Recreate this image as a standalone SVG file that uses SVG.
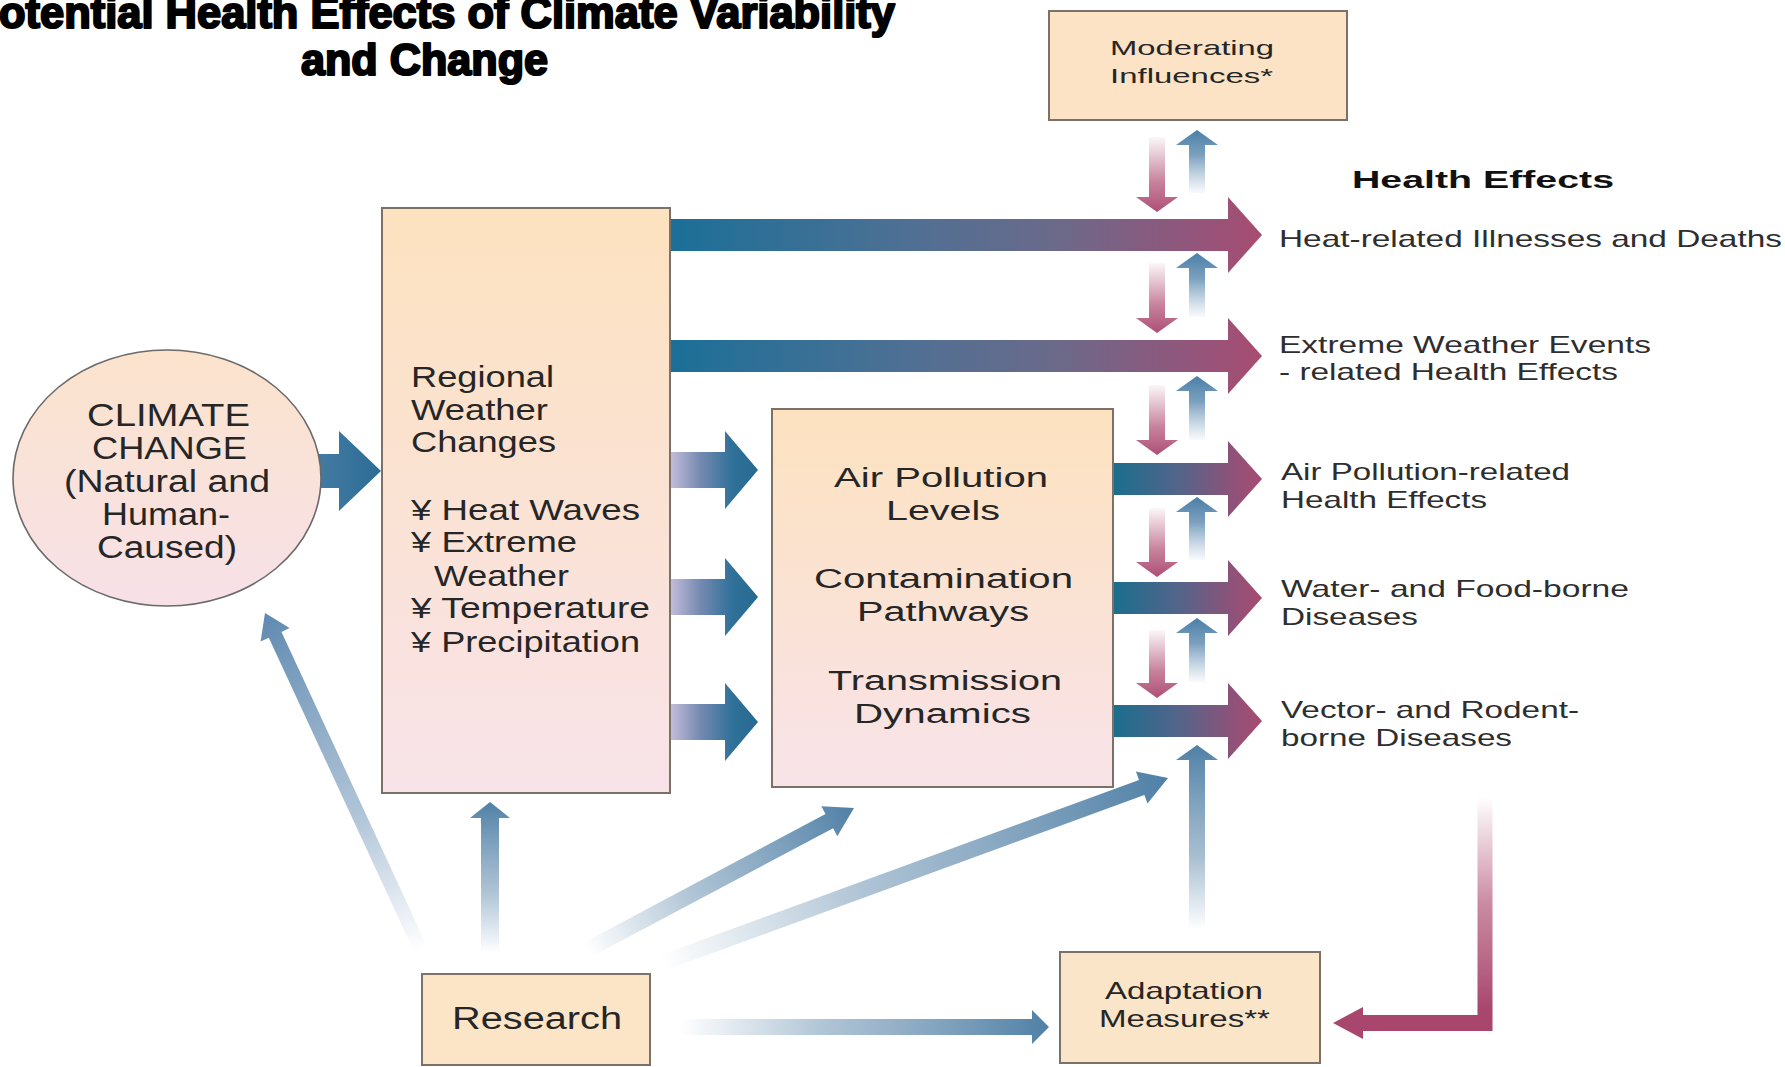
<svg xmlns="http://www.w3.org/2000/svg" width="1785" height="1067" viewBox="0 0 1785 1067">
<style>
.t{font-family:"Liberation Sans",Arial,sans-serif;fill:#262626}
.title{font-family:"Liberation Sans",Arial,sans-serif;font-weight:bold;font-size:44px;fill:#000;stroke:#000;stroke-width:2.2;stroke-linejoin:round}
.ell{font-size:31px}
.reg{font-size:30px}
.mid{font-size:27px}
.he{font-size:24px;fill:#2e2e2e}
.heh{font-size:23px;font-weight:bold;fill:#111}
.sm{font-size:21px}
.res{font-size:31px}
.ad{font-size:24px}
.box{stroke:#7d7068;stroke-width:2}
</style>
<defs>
<linearGradient id="gBox" x1="0" y1="0" x2="0" y2="1"><stop offset="0" stop-color="#fde2bf"/><stop offset="1" stop-color="#f8e3e9"/></linearGradient>
<linearGradient id="gEll" x1="0" y1="0" x2="0" y2="1"><stop offset="0" stop-color="#fbe3cc"/><stop offset="1" stop-color="#f7e1e8"/></linearGradient>
<linearGradient id="gLong" gradientUnits="userSpaceOnUse" x1="670" y1="0" x2="1262" y2="0"><stop offset="0" stop-color="#1b6f98"/><stop offset="0.4" stop-color="#4e7094"/><stop offset="0.65" stop-color="#6b6a8a"/><stop offset="0.85" stop-color="#8d587d"/><stop offset="1" stop-color="#a84c72"/></linearGradient>
<linearGradient id="gShort" gradientUnits="userSpaceOnUse" x1="1113" y1="0" x2="1262" y2="0"><stop offset="0" stop-color="#1a6e8e"/><stop offset="0.45" stop-color="#55648a"/><stop offset="0.8" stop-color="#8e5279"/><stop offset="1" stop-color="#a84b70"/></linearGradient>
<linearGradient id="gReg" gradientUnits="userSpaceOnUse" x1="670" y1="0" x2="758" y2="0"><stop offset="0" stop-color="#c4bedb"/><stop offset="0.35" stop-color="#7489b0"/><stop offset="0.7" stop-color="#30719a"/><stop offset="1" stop-color="#26698f"/></linearGradient>
<linearGradient id="gEllA" gradientUnits="userSpaceOnUse" x1="300" y1="0" x2="381" y2="0"><stop offset="0" stop-color="#4a7fa6"/><stop offset="1" stop-color="#2c6c95"/></linearGradient>
<linearGradient id="gDown" x1="0" y1="0" x2="0" y2="1"><stop offset="0" stop-color="#b65d7e" stop-opacity="0.05"/><stop offset="0.6" stop-color="#b4587b" stop-opacity="0.75"/><stop offset="1" stop-color="#ae4f76"/></linearGradient>
<linearGradient id="gUp" x1="0" y1="0" x2="0" y2="1"><stop offset="0" stop-color="#4a7fa8"/><stop offset="0.4" stop-color="#5a88ae" stop-opacity="0.8"/><stop offset="1" stop-color="#7fa2c2" stop-opacity="0.05"/></linearGradient>
<linearGradient id="gR1" gradientUnits="userSpaceOnUse" x1="421" y1="950" x2="265" y2="613"><stop offset="0" stop-color="#7b9dbd" stop-opacity="0"/><stop offset="0.4" stop-color="#7b9dbd" stop-opacity="0.6"/><stop offset="1" stop-color="#5f8ab0"/></linearGradient>
<linearGradient id="gR2" gradientUnits="userSpaceOnUse" x1="490" y1="953" x2="490" y2="802"><stop offset="0" stop-color="#6d93b3" stop-opacity="0"/><stop offset="0.4" stop-color="#6d93b3" stop-opacity="0.55"/><stop offset="1" stop-color="#4f80a6"/></linearGradient>
<linearGradient id="gR3" gradientUnits="userSpaceOnUse" x1="587" y1="950" x2="854" y2="808"><stop offset="0" stop-color="#6d93b3" stop-opacity="0"/><stop offset="0.4" stop-color="#6d93b3" stop-opacity="0.55"/><stop offset="1" stop-color="#4f80a6"/></linearGradient>
<linearGradient id="gR4" gradientUnits="userSpaceOnUse" x1="662" y1="963" x2="1168" y2="778"><stop offset="0" stop-color="#6d93b3" stop-opacity="0"/><stop offset="0.4" stop-color="#6d93b3" stop-opacity="0.55"/><stop offset="1" stop-color="#4f80a6"/></linearGradient>
<linearGradient id="gR5" gradientUnits="userSpaceOnUse" x1="679" y1="0" x2="1049" y2="0"><stop offset="0" stop-color="#6d93b3" stop-opacity="0"/><stop offset="0.4" stop-color="#6d93b3" stop-opacity="0.55"/><stop offset="1" stop-color="#4f80a6"/></linearGradient>
<linearGradient id="gUpA" gradientUnits="userSpaceOnUse" x1="0" y1="930" x2="0" y2="745"><stop offset="0" stop-color="#6d93b3" stop-opacity="0"/><stop offset="0.4" stop-color="#6d93b3" stop-opacity="0.6"/><stop offset="1" stop-color="#4f80a6"/></linearGradient>
<linearGradient id="gElbow" gradientUnits="userSpaceOnUse" x1="0" y1="797" x2="0" y2="1010"><stop offset="0" stop-color="#b65d7e" stop-opacity="0"/><stop offset="0.5" stop-color="#b4587b" stop-opacity="0.7"/><stop offset="1" stop-color="#a8466e"/></linearGradient>
</defs>
<rect x="0" y="0" width="1785" height="1067" fill="#ffffff"/>

<g id="title">
<text class="title" x="-30" y="28" textLength="925" lengthAdjust="spacingAndGlyphs">Potential Health Effects of Climate Variability</text>
<text class="title" x="301" y="75" textLength="247" lengthAdjust="spacingAndGlyphs">and Change</text>
</g>

<g id="connectors">
<polygon fill="url(#gEllA)" points="300,454 339,454 339,431 381,471 339,511 339,488 300,488"/>
<polygon fill="url(#gLong)" points="671,219 1228,219 1228,197 1262,235 1228,273 1228,251 671,251"/>
<polygon fill="url(#gLong)" points="671,340 1228,340 1228,318 1262,356 1228,394 1228,372 671,372"/>
<polygon fill="url(#gReg)" points="671,452 725,452 725,431 758,470 725,509 725,488 671,488"/>
<polygon fill="url(#gReg)" points="671,579 725,579 725,558 758,597 725,636 725,615 671,615"/>
<polygon fill="url(#gReg)" points="671,704 725,704 725,683 758,722 725,761 725,740 671,740"/>
<polygon fill="url(#gShort)" points="1113,463 1228,463 1228,441 1262,479 1228,517 1228,495 1113,495"/>
<polygon fill="url(#gShort)" points="1113,582 1228,582 1228,560 1262,598 1228,636 1228,614 1113,614"/>
<polygon fill="url(#gShort)" points="1113,705 1228,705 1228,683 1262,721 1228,759 1228,737 1113,737"/>
<polygon fill="url(#gDown)" points="1149,137 1165,137 1165,197 1178,197 1157,212 1136,197 1149,197"/>
<polygon fill="url(#gDown)" points="1149,263 1165,263 1165,318 1178,318 1157,333 1136,318 1149,318"/>
<polygon fill="url(#gDown)" points="1149,385 1165,385 1165,440 1178,440 1157,455 1136,440 1149,440"/>
<polygon fill="url(#gDown)" points="1149,508 1165,508 1165,562 1178,562 1157,577 1136,562 1149,562"/>
<polygon fill="url(#gDown)" points="1149,630 1165,630 1165,683 1178,683 1157,698 1136,683 1149,683"/>
<polygon fill="url(#gUp)" points="1189,193 1189,145 1176,145 1197,130 1218,145 1205,145 1205,193"/>
<polygon fill="url(#gUp)" points="1189,317 1189,268 1176,268 1197,253 1218,268 1205,268 1205,317"/>
<polygon fill="url(#gUp)" points="1189,440 1189,391 1176,391 1197,376 1218,391 1205,391 1205,440"/>
<polygon fill="url(#gUp)" points="1189,560 1189,512 1176,512 1197,497 1218,512 1205,512 1205,560"/>
<polygon fill="url(#gUp)" points="1189,682 1189,633 1176,633 1197,618 1218,633 1205,633 1205,682"/>
<polygon fill="url(#gUpA)" points="1189,930 1189,760 1176,760 1197,745 1218,760 1205,760 1205,930"/>
<polygon fill="url(#gR1)" points="427.4,947.1 281.5,631.9 289.6,628.1 265,613 260.6,641.5 268.8,637.7 414.7,952.9"/>
<polygon fill="url(#gR2)" points="481,953 481,818 470,818 490,802 510,818 499,818 499,953"/>
<polygon fill="url(#gR3)" points="583.2,942.9 825.5,814.1 821.3,806.2 854,808 837.3,836.2 833.1,828.3 590.8,957.1"/>
<polygon fill="url(#gR4)" points="659.3,955.5 1139,780.1 1135.9,771.6 1168,778 1147.5,803.6 1144.4,795.1 664.7,970.5"/>
<polygon fill="url(#gR5)" points="679,1019 1032,1019 1032,1010 1049,1027 1032,1044 1032,1035 679,1035"/>
<polygon fill="url(#gElbow)" points="1477.5,797 1492.5,797 1492.5,1031 1363,1031 1363,1039 1333,1023 1363,1007 1363,1015 1477.5,1015"/>
</g>

<g id="climate-change">
<ellipse cx="167" cy="478" rx="154" ry="128" fill="url(#gEll)" stroke="#6a6a6a" stroke-width="1.6"/>
<text class="t ell" x="87" y="426" textLength="163" lengthAdjust="spacingAndGlyphs">CLIMATE</text>
<text class="t ell" x="92" y="459" textLength="155" lengthAdjust="spacingAndGlyphs">CHANGE</text>
<text class="t ell" x="64" y="492" textLength="206" lengthAdjust="spacingAndGlyphs">(Natural and</text>
<text class="t ell" x="102" y="525" textLength="128" lengthAdjust="spacingAndGlyphs">Human-</text>
<text class="t ell" x="97" y="558" textLength="140" lengthAdjust="spacingAndGlyphs">Caused)</text>
</g>

<g id="regional-weather">
<rect class="box" x="382" y="208" width="288" height="585" fill="url(#gBox)"/>
<text class="t reg" x="411" y="387" textLength="143" lengthAdjust="spacingAndGlyphs">Regional</text>
<text class="t reg" x="411" y="420" textLength="137" lengthAdjust="spacingAndGlyphs">Weather</text>
<text class="t reg" x="411" y="452" textLength="145" lengthAdjust="spacingAndGlyphs">Changes</text>
<text class="t reg" x="411" y="520" textLength="229" lengthAdjust="spacingAndGlyphs">¥ Heat Waves</text>
<text class="t reg" x="411" y="552" textLength="166" lengthAdjust="spacingAndGlyphs">¥ Extreme</text>
<text class="t reg" x="434" y="586" textLength="135" lengthAdjust="spacingAndGlyphs">Weather</text>
<text class="t reg" x="411" y="618" textLength="239" lengthAdjust="spacingAndGlyphs">¥ Temperature</text>
<text class="t reg" x="411" y="652" textLength="229" lengthAdjust="spacingAndGlyphs">¥ Precipitation</text>
</g>

<g id="pathways">
<rect class="box" x="772" y="409" width="341" height="378" fill="url(#gBox)"/>
<text class="t mid" x="834" y="487" textLength="214" lengthAdjust="spacingAndGlyphs">Air Pollution</text>
<text class="t mid" x="886" y="520" textLength="114" lengthAdjust="spacingAndGlyphs">Levels</text>
<text class="t mid" x="814" y="588" textLength="259" lengthAdjust="spacingAndGlyphs">Contamination</text>
<text class="t mid" x="857" y="621" textLength="172" lengthAdjust="spacingAndGlyphs">Pathways</text>
<text class="t mid" x="828" y="690" textLength="234" lengthAdjust="spacingAndGlyphs">Transmission</text>
<text class="t mid" x="854" y="723" textLength="177" lengthAdjust="spacingAndGlyphs">Dynamics</text>
</g>

<g id="moderating">
<rect class="box" x="1049" y="11" width="298" height="109" fill="#fce3c6"/>
<text class="t sm" x="1110" y="55" textLength="164" lengthAdjust="spacingAndGlyphs">Moderating</text>
<text class="t sm" x="1110" y="83" textLength="163" lengthAdjust="spacingAndGlyphs">Influences*</text>
</g>

<g id="health-effects-heading">
<text class="t heh" x="1352" y="188" textLength="262" lengthAdjust="spacingAndGlyphs">Health Effects</text>
</g>
<g id="he-heat">
<text class="t he" x="1279" y="247" textLength="503" lengthAdjust="spacingAndGlyphs">Heat-related Illnesses and Deaths</text>
</g>
<g id="he-extreme">
<text class="t he" x="1279" y="353" textLength="372" lengthAdjust="spacingAndGlyphs">Extreme Weather Events</text>
<text class="t he" x="1279" y="380" textLength="339" lengthAdjust="spacingAndGlyphs">- related Health Effects</text>
</g>
<g id="he-air">
<text class="t he" x="1281" y="480" textLength="289" lengthAdjust="spacingAndGlyphs">Air Pollution-related</text>
<text class="t he" x="1281" y="508" textLength="206" lengthAdjust="spacingAndGlyphs">Health Effects</text>
</g>
<g id="he-water">
<text class="t he" x="1281" y="597" textLength="348" lengthAdjust="spacingAndGlyphs">Water- and Food-borne</text>
<text class="t he" x="1281" y="625" textLength="137" lengthAdjust="spacingAndGlyphs">Diseases</text>
</g>
<g id="he-vector">
<text class="t he" x="1281" y="718" textLength="298" lengthAdjust="spacingAndGlyphs">Vector- and Rodent-</text>
<text class="t he" x="1281" y="746" textLength="231" lengthAdjust="spacingAndGlyphs">borne Diseases</text>
</g>

<g id="research">
<rect class="box" x="422" y="974" width="228" height="91" fill="#fce5c7"/>
<text class="t res" x="452" y="1029" textLength="170" lengthAdjust="spacingAndGlyphs">Research</text>
</g>

<g id="adaptation">
<rect class="box" x="1060" y="952" width="260" height="111" fill="#fbe5c8"/>
<text class="t ad" x="1105" y="999" textLength="158" lengthAdjust="spacingAndGlyphs">Adaptation</text>
<text class="t ad" x="1099" y="1027" textLength="171" lengthAdjust="spacingAndGlyphs">Measures**</text>
</g>
</svg>
